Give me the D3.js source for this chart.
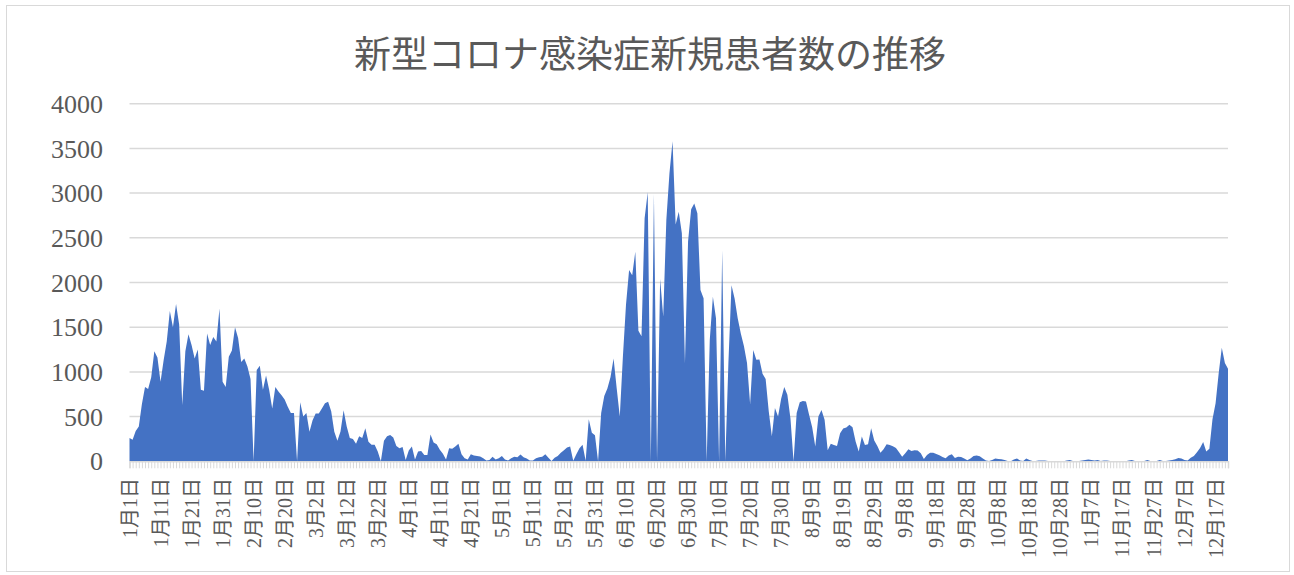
<!DOCTYPE html>
<html>
<head>
<meta charset="utf-8">
<script src="https://cdn.jsdelivr.net/npm/d3@7"></script>
<style>
  body { margin: 0; background: #fff; }
  svg { display: block; }
</style>
</head>
<body>
<svg id="chart" width="1294" height="575"></svg>
<script>
// daily new cases, one array per month (2021)
const jan = [260, 240, 340, 390, 640, 830, 810, 940, 1230, 1160, 890, 1130, 1340, 1680, 1500, 1760,
  1530, 630, 1230, 1420, 1300, 1150, 1250, 800, 790, 1430, 1300, 1390, 1340, 1710, 890];
const feb = [830, 1170, 1240, 1500, 1380, 1110, 1150, 1060, 920, 0, 1020, 1070, 800, 960, 800, 590,
  830, 780, 740, 690, 610, 540, 540, 0, 660, 500, 540, 330];
const mar = [460, 535, 535, 590, 650, 665, 560, 330, 230, 334, 570, 390, 260, 250, 195, 280,
  260, 370, 220, 185, 185, 110, 0, 230, 280, 295, 265, 170, 145, 160, 15];
const apr = [120, 165, 20, 110, 115, 70, 70, 300, 210, 190, 130, 85, 20, 145, 140, 165,
  195, 80, 35, 20, 80, 65, 60, 55, 35, 8, 15, 50, 20, 35];
const may = [60, 20, 8, 35, 50, 45, 75, 45, 30, 8, 8, 35, 45, 50, 80, 40,
  4, 40, 60, 95, 125, 155, 165, 7, 80, 145, 185, 7, 470, 320, 290];
const jun = [0, 540, 730, 815, 940, 1150, 816, 500, 1170, 1750, 2140, 2080, 2345, 1460, 1400, 2720,
  3010, 0, 2990, 0, 2040, 1620, 2700, 3220, 3580, 2650, 2790, 2550, 1100, 2460];
const jul = [2820, 2885, 2775, 1915, 1825, 0, 1360, 1840, 1600, 0, 2360, 0, 1100, 1970, 1820, 1600,
  1430, 1290, 1100, 640, 1245, 1135, 1140, 980, 920, 560, 280, 595, 500, 700, 830];
const aug = [745, 480, 0, 540, 660, 675, 670, 520, 380, 165, 500, 575, 465, 125, 195, 183,
  172, 315, 367, 378, 408, 382, 221, 109, 277, 183, 190, 370, 232, 172, 97];
const sep = [135, 191, 183, 168, 150, 101, 52, 90, 135, 116, 124, 120, 90, 26, 71, 97,
  97, 82, 67, 49, 34, 64, 79, 37, 52, 49, 30, 11, 30, 60];
const oct = [64, 56, 30, 8, 4, 15, 30, 26, 22, 15, 4, 0, 20, 30, 8, 4,
  30, 15, 4, 4, 8, 8, 8, 4, 0, 0, 0, 0, 0, 10, 15];
const nov = [4, 4, 4, 8, 15, 20, 15, 8, 15, 4, 8, 8, 4, 0, 0, 0,
  0, 0, 10, 15, 4, 4, 4, 4, 15, 4, 4, 4, 15, 4];
const dec = [4, 8, 15, 22, 37, 30, 15, 10, 40, 60, 100, 150, 215, 110, 140, 470,
  650, 985, 1270, 1100, 1035];

const months = [jan, feb, mar, apr, may, jun, jul, aug, sep, oct, nov, dec];

const tickLabels = ['1月1日', '1月11日', '1月21日', '1月31日', '2月10日', '2月20日', '3月2日', '3月12日',
  '3月22日', '4月1日', '4月11日', '4月21日', '5月1日', '5月11日', '5月21日', '5月31日', '6月10日',
  '6月20日', '6月30日', '7月10日', '7月20日', '7月30日', '8月9日', '8月19日', '8月29日', '9月8日',
  '9月18日', '9月28日', '10月8日', '10月18日', '10月28日', '11月7日', '11月17日', '11月27日',
  '12月7日', '12月17日'];

const yTicks = [0, 500, 1000, 1500, 2000, 2500, 3000, 3500, 4000];

const title = '新型コロナ感染症新規患者数の推移';

// categories "M月D日" built from the month arrays
const categories = [];
const values = [];
months.forEach((arr, mi) => {
  arr.forEach((v, di) => {
    categories.push(`${mi + 1}月${di + 1}日`);
    values.push(v);
  });
});

const FONT = '"Liberation Serif", "Noto Sans CJK JP", serif';
const TEXT = '#595959';
const GRID = '#d9d9d9';

const svg = d3.select('#chart');

// chart border
svg.append('rect')
  .attr('x', 6.5).attr('y', 5.5)
  .attr('width', 1283).attr('height', 566)
  .attr('fill', '#fff').attr('stroke', GRID);

const x = d3.scalePoint().domain(categories).range([129.5, 1228]);
const y = d3.scaleLinear().domain([0, 4000]).range([461.3, 103.7]);

// title
svg.append('text')
  .attr('x', 650).attr('y', 68)
  .attr('text-anchor', 'middle')
  .attr('font-family', FONT)
  .attr('font-size', 37)
  .attr('fill', TEXT)
  .text(title);

// gridlines
svg.append('g')
  .selectAll('line')
  .data(yTicks.filter(d => d > 0))
  .join('line')
  .attr('x1', 129.5).attr('x2', 1228)
  .attr('y1', d => y(d)).attr('y2', d => y(d))
  .attr('stroke', GRID).attr('stroke-width', 1.5);

// y labels
svg.append('g')
  .selectAll('text')
  .data(yTicks)
  .join('text')
  .attr('x', 103)
  .attr('y', d => y(d))
  .attr('dy', '0.35em')
  .attr('text-anchor', 'end')
  .attr('font-family', FONT)
  .attr('font-size', 26)
  .attr('fill', TEXT)
  .text(d => d);

// area
const area = d3.area()
  .x((d, i) => x(categories[i]))
  .y0(y(0))
  .y1(d => y(d));

svg.append('path')
  .datum(values)
  .attr('d', area)
  .attr('fill', '#4472c4');

// x axis with a tick for every day
const xAxis = svg.append('g')
  .attr('transform', `translate(0,${y(0)})`)
  .call(d3.axisBottom(x).tickSize(7).tickFormat(''));
xAxis.select('.domain').attr('stroke', GRID).attr('stroke-width', 1.5);
xAxis.selectAll('.tick line').attr('stroke', GRID);

// date labels every 10 days
svg.append('g')
  .selectAll('text')
  .data(tickLabels)
  .join('text')
  .attr('transform', d => `translate(${x(d) + 7},478) rotate(-90)`)
  .attr('text-anchor', 'end')
  .attr('font-family', FONT)
  .attr('font-size', 20)
  .attr('fill', TEXT)
  .text(d => d);
</script>
</body>
</html>
